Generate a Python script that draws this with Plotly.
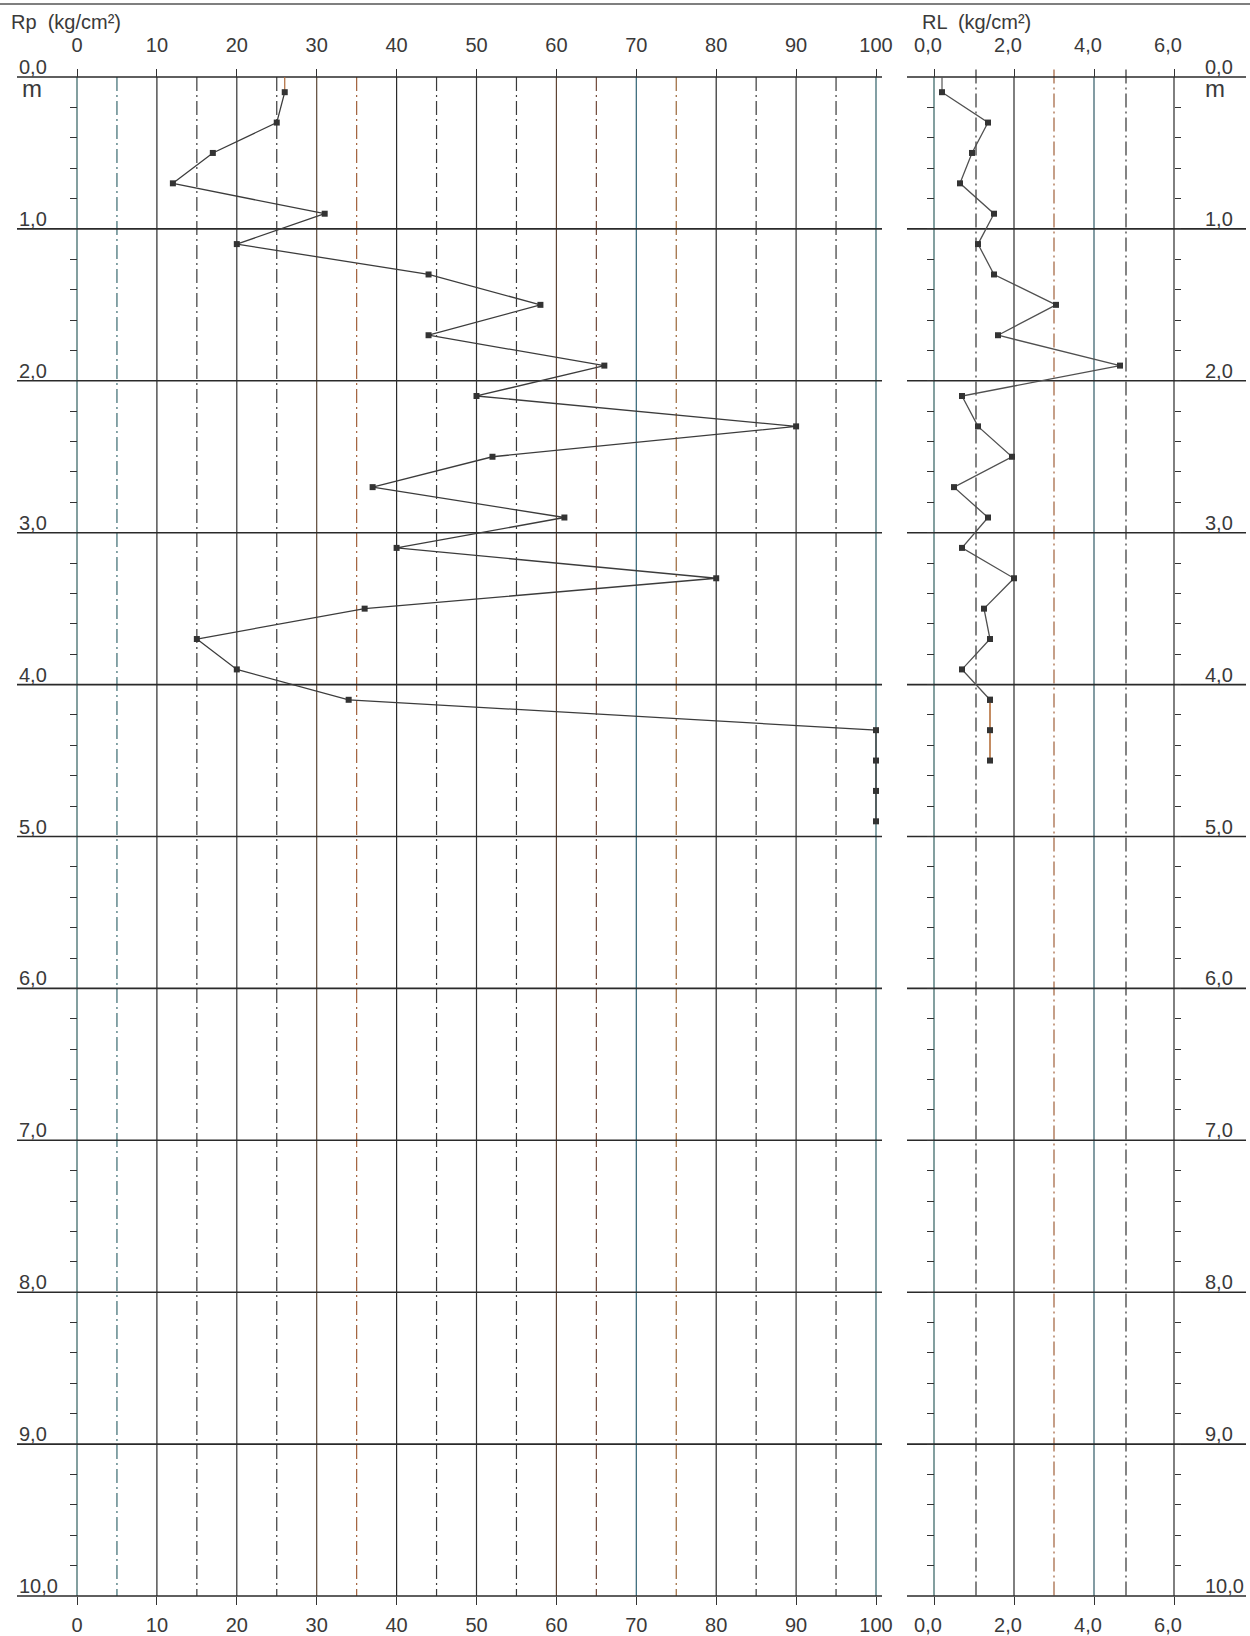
import plotly.graph_objects as go

# ---------------- data ----------------
depth_rp = [0.1, 0.3, 0.5, 0.7, 0.9, 1.1, 1.3, 1.5, 1.7, 1.9, 2.1, 2.3, 2.5,
            2.7, 2.9, 3.1, 3.3, 3.5, 3.7, 3.9, 4.1, 4.3, 4.5, 4.7, 4.9]
rp = [26, 25, 17, 12, 31, 20, 44, 58, 44, 66, 50, 90, 52,
      37, 61, 40, 80, 36, 15, 20, 34, 100, 100, 100, 100]

depth_rl = [0.1, 0.3, 0.5, 0.7, 0.9, 1.1, 1.3, 1.5, 1.7, 1.9, 2.1, 2.3, 2.5,
            2.7, 2.9, 3.1, 3.3, 3.5, 3.7, 3.9, 4.1]
rl = [0.2, 1.35, 0.95, 0.65, 1.5, 1.1, 1.5, 3.05, 1.6, 4.65, 0.7, 1.1, 1.95,
      0.5, 1.35, 0.7, 2.0, 1.25, 1.4, 0.7, 1.4]
depth_rl_end = [4.1, 4.3, 4.5]
rl_end = [1.4, 1.4, 1.4]

surface_depth = [0.0, 0.1]
rp_surface = [26, 26]
rl_surface = [0.2, 0.2]

rp_major = [0, 10, 20, 30, 40, 50, 60, 70, 80, 90, 100]
rp_major_text = ["0", "10", "20", "30", "40", "50", "60", "70", "80", "90", "100"]
rp_major_color = ["#2f5f60", "#2a2a2a", "#333333", "#5a4636", "#2a2a2a", "#333333",
                  "#5e4434", "#2f6274", "#2a2a2a", "#333333", "#2f6068"]
rp_minor = [5, 15, 25, 35, 45, 55, 65, 75, 85, 95]
rp_minor_color = ["#3a6a70", "#3a3a3a", "#3a3a3a", "#a0603a", "#3a3a3a", "#3a3a3a",
                  "#704838", "#9a6638", "#3a3a3a", "#3a3a3a"]

rl_major = [0, 2, 4, 6]
rl_major_text = ["0,0", "2,0", "4,0", "6,0"]
rl_major_color = ["#2f5f60", "#2a2a2a", "#2f5a66", "#2a2a2a"]
rl_minor = [1.05, 3.0, 4.8]
rl_minor_color = ["#333333", "#a0603a", "#333333"]

depth_major = [0, 1, 2, 3, 4, 5, 6, 7, 8, 9, 10]
depth_text = ["0,0", "1,0", "2,0", "3,0", "4,0", "5,0", "6,0", "7,0", "8,0", "9,0", "10,0"]
depth_minor = [round(0.2 * i, 1) for i in range(1, 50)]

# ---------------- geometry (page pixels) ----------------
W, H = 1250, 1636
X0L, PXL = 77.0, 7.99      # Rp axis: px of value 0, px per unit
X0R, PXR = 934.0, 40.0     # RL axis
Y0, PY = 77.0, 151.9       # depth axis: px of 0 m, px per m

xl_range = [-X0L / PXL, (W - X0L) / PXL]
xr_range = [-X0R / PXR, (W - X0R) / PXR]
y_range = [(H - Y0) / PY, -Y0 / PY]
pos_top = 1 - Y0 / H
pos_bot = 1 - (Y0 + 10 * PY) / H

FONT = "Liberation Sans, Arial, sans-serif"
TXT = "#3a3a3a"
DASHDOT = "14px,4px,2px,4px"

fig = go.Figure()

# helper traces so that the extra tick axes are drawn
for xa, ya in [("x3", "y"), ("x4", "y"), ("x", "y2"), ("x", "y3")]:
    fig.add_trace(go.Scatter(x=[None], y=[None], mode="markers", xaxis=xa, yaxis=ya,
                             showlegend=False, hoverinfo="skip"))

# surface segments
fig.add_trace(go.Scatter(x=rp_surface, y=surface_depth, mode="lines",
                         line=dict(color="#b06a3a", width=1.2), xaxis="x", yaxis="y",
                         showlegend=False, hoverinfo="skip"))
fig.add_trace(go.Scatter(x=rl_surface, y=surface_depth, mode="lines",
                         line=dict(color="#555555", width=1.2), xaxis="x2", yaxis="y",
                         showlegend=False, hoverinfo="skip"))
# Rp profile
fig.add_trace(go.Scatter(x=rp, y=depth_rp, mode="lines+markers",
                         line=dict(color="#3c3c3c", width=1.3),
                         marker=dict(symbol="square", size=6, color="#333333"),
                         xaxis="x", yaxis="y", showlegend=False, name="Rp"))
# RL profile
fig.add_trace(go.Scatter(x=rl, y=depth_rl, mode="lines+markers",
                         line=dict(color="#505050", width=1.3),
                         marker=dict(symbol="square", size=6, color="#333333"),
                         xaxis="x2", yaxis="y", showlegend=False, name="RL"))
fig.add_trace(go.Scatter(x=rl_end, y=depth_rl_end, mode="lines+markers",
                         line=dict(color="#b0662e", width=1.5),
                         marker=dict(symbol="square", size=6, color="#333333"),
                         xaxis="x2", yaxis="y", showlegend=False, name="RL"))

shapes = []
for v, c in zip(rp_major, rp_major_color):
    shapes.append(dict(type="line", xref="x", yref="y", x0=v, x1=v, y0=0, y1=10,
                       line=dict(color=c, width=1.2), layer="below"))
for v, c in zip(rp_minor, rp_minor_color):
    shapes.append(dict(type="line", xref="x", yref="y", x0=v, x1=v, y0=0, y1=10,
                       line=dict(color=c, width=1.2, dash=DASHDOT), layer="below"))
for v, c in zip(rl_major, rl_major_color):
    shapes.append(dict(type="line", xref="x2", yref="y", x0=v, x1=v, y0=0, y1=10,
                       line=dict(color=c, width=1.2), layer="below"))
for v, c in zip(rl_minor, rl_minor_color):
    shapes.append(dict(type="line", xref="x2", yref="y", x0=v, x1=v, y0=-0.05, y1=10,
                       line=dict(color=c, width=1.2, dash=DASHDOT), layer="below"))
for d in depth_major:
    shapes.append(dict(type="line", xref="x", yref="y", x0=(17 - X0L) / PXL,
                       x1=(882 - X0L) / PXL, y0=d, y1=d,
                       line=dict(color="#2a2a2a", width=1.6), layer="below"))
    shapes.append(dict(type="line", xref="x2", yref="y", x0=(907 - X0R) / PXR,
                       x1=(1246 - X0R) / PXR, y0=d, y1=d,
                       line=dict(color="#2a2a2a", width=1.6), layer="below"))
# scan border at top
shapes.append(dict(type="line", xref="paper", yref="paper", x0=0, x1=1,
                   y0=1 - 4 / H, y1=1 - 4 / H, line=dict(color="#555555", width=1.5)))

annotations = []
for d, t in zip(depth_major, depth_text):
    annotations.append(dict(xref="x", yref="y", x=(17 - X0L) / PXL, y=d, text=t,
                            xanchor="left", yanchor="bottom", showarrow=False, yshift=-3,
                            font=dict(family=FONT, size=20, color=TXT)))
    annotations.append(dict(xref="x2", yref="y", x=(1203 - X0R) / PXR, y=d, text=t,
                            xanchor="left", yanchor="bottom", showarrow=False, yshift=-3,
                            font=dict(family=FONT, size=20, color=TXT)))
annotations.append(dict(xref="x", yref="y", x=(20 - X0L) / PXL, y=0, text="m",
                        xanchor="left", yanchor="top", showarrow=False, yshift=4,
                        font=dict(family=FONT, size=24, color=TXT)))
annotations.append(dict(xref="x2", yref="y", x=(1203 - X0R) / PXR, y=0, text="m",
                        xanchor="left", yanchor="top", showarrow=False, yshift=4,
                        font=dict(family=FONT, size=24, color=TXT)))
annotations.append(dict(xref="paper", yref="paper", x=9 / W, y=1 - 22 / H,
                        text="Rp  (kg/cm²)", xanchor="left", yanchor="middle",
                        showarrow=False, font=dict(family=FONT, size=20, color=TXT)))
annotations.append(dict(xref="paper", yref="paper", x=920 / W, y=1 - 22 / H,
                        text="RL  (kg/cm²)", xanchor="left", yanchor="middle",
                        showarrow=False, font=dict(family=FONT, size=20, color=TXT)))

tickfont = dict(family=FONT, size=20, color=TXT)
base_x = dict(domain=[0, 1], showgrid=False, zeroline=False, showline=False,
              ticks="outside", ticklen=8, tickwidth=1.2, tickcolor="#333333",
              tickfont=tickfont, anchor="free", fixedrange=True)
base_y = dict(range=y_range, showgrid=False, zeroline=False, showline=False,
              ticks="outside", ticklen=7, tickwidth=1.2, tickcolor="#333333",
              tickmode="array", tickvals=depth_minor, showticklabels=False,
              anchor="free", fixedrange=True)

fig.update_layout(
    width=W, height=H, autosize=False,
    margin=dict(l=0, r=0, t=0, b=0, pad=0),
    paper_bgcolor="white", plot_bgcolor="white",
    showlegend=False,
    xaxis=dict(base_x, range=xl_range, tickmode="array", tickvals=rp_major,
               ticktext=rp_major_text, side="bottom", position=pos_bot,
               ticklabelstandoff=3),
    xaxis3=dict(base_x, range=xl_range, tickmode="array", tickvals=rp_major,
                ticktext=rp_major_text, side="top", position=pos_top,
                overlaying="x", ticklabelstandoff=9),
    xaxis2=dict(base_x, range=xr_range, tickmode="array", tickvals=rl_major,
                ticktext=rl_major_text, side="bottom", position=pos_bot,
                overlaying="x", ticklabelstandoff=3, ticklabelshift=-6),
    xaxis4=dict(base_x, range=xr_range, tickmode="array", tickvals=rl_major,
                ticktext=rl_major_text, side="top", position=pos_top,
                overlaying="x", ticklabelstandoff=9, ticklabelshift=-6),
    yaxis=dict(base_y, domain=[0, 1], position=X0L / W, side="left"),
    yaxis2=dict(base_y, position=X0R / W, side="left", overlaying="y"),
    yaxis3=dict(base_y, ticklen=6, position=(X0R + 6 * PXR) / W, side="right",
                overlaying="y"),
    shapes=shapes,
    annotations=annotations,
)

fig.write_html("out.html", config={"displayModeBar": False},
               post_script="document.body.style.margin='0';document.body.style.padding='0';")
